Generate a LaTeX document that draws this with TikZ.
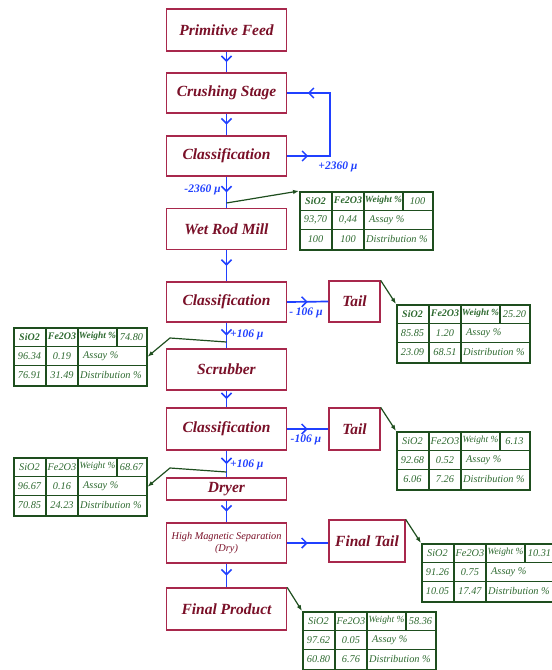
\documentclass[tikz,border=0pt]{standalone}
\usepackage{fontspec}
\setmainfont{Liberation Serif}
\usetikzlibrary{arrows.meta,decorations.markings}
\definecolor{boxred}{HTML}{A8284C}
\definecolor{textred}{HTML}{7A1028}
\definecolor{flowblue}{HTML}{2040FF}
\definecolor{tabgreen}{HTML}{1E4E1E}
\definecolor{tabtext}{HTML}{2E6A30}
\tikzset{
  stage/.style={draw=boxred, line width=1.3pt, fill=white, text=textred,
    minimum width=120pt, minimum height=41pt, inner sep=1pt,
    font=\bfseries\itshape\fontsize{15.5}{17}\selectfont},
  tailbox/.style={stage, minimum width=51pt},
  barb/.tip={Straight Barb[length=5pt,width=10pt,line width=1.5pt]},
  flow/.style={draw=flowblue, line width=1.7pt,
    postaction={decorate},
    decoration={markings, mark=at position 0.5 with {\arrow[flowblue]{barb}}}},
  flowline/.style={draw=flowblue, line width=1.7pt},
  flowlab/.style={text=flowblue, font=\bfseries\itshape\fontsize{11.5}{13}\selectfont, inner sep=1pt},
  tabframe/.style={draw=tabgreen, line width=1.5pt, fill=white, inner sep=0pt},
  tabline/.style={draw=tabgreen, line width=1.3pt},
  tabtxt/.style={text=tabtext, inner sep=0pt, font=\itshape\fontsize{10.3}{12}\selectfont},
  pointer/.style={draw=tabgreen, line width=1.2pt, -{Latex[length=6pt,width=4.5pt]}},
}
% #1 name, #2 x, #3 y, #4 weight, #5 SiO2 assay, #6 Fe2O3 assay, #7 SiO2 dist, #8 Fe2O3 dist, #9 header font
\newcommand\dtab[9]{%
  \node[tabframe, anchor=north west, minimum width=133pt, minimum height=58pt] (#1) at (#2,#3) {};
  \draw[tabline] (#2,#3+19.3) -- ++(133,0);
  \draw[tabline] (#2,#3+38.7) -- ++(133,0);
  \draw[tabline] (#2+33,#3) -- ++(0,58);
  \draw[tabline] (#2+65,#3) -- ++(0,58);
  \draw[tabline] (#2+104,#3) -- ++(0,19.3);
  \node[tabtxt, font=#9] at (#2+16.5,#3+9.7) {SiO2};
  \node[tabtxt, font=#9] at (#2+49,#3+9.7) {Fe2O3};
  \node[tabtxt, font=#9\fontsize{9.4}{10}\selectfont] at (#2+84.5,#3+9.7) {Weight \%};
  \node[tabtxt] at (#2+118.5,#3+9.7) {#4};
  \node[tabtxt] at (#2+16.5,#3+29) {#5};
  \node[tabtxt] at (#2+49,#3+29) {#6};
  \node[tabtxt, anchor=west] at (#2+70,#3+29) {Assay \%};
  \node[tabtxt, anchor=west] at (#2+67,#3+48.3) {Distribution \%};
  \node[tabtxt] at (#2+16.5,#3+48.3) {#7};
  \node[tabtxt] at (#2+49,#3+48.3) {#8};
}
\begin{document}
\begin{tikzpicture}[x=1pt,y=-1pt]
\path[use as bounding box] (0,0) rectangle (552,670);
\begin{scope}
\clip (0,0) rectangle (552,670);
% stages
\node[stage, minimum height=42pt] (feed) at (226.5,30) {Primitive Feed};
\node[stage, minimum height=40pt] (crush) at (226.5,93) {Crushing Stage};
\node[stage, minimum height=40pt] (class1) at (226.5,156) {Classification};
\node[stage] (wrm) at (226.5,229) {Wet Rod Mill};
\node[stage, minimum height=40pt] (class2) at (226.5,302) {Classification};
\node[stage] (scrub) at (226.5,369.5) {Scrubber};
\node[stage, minimum height=42pt] (class3) at (226.5,429) {Classification};
\node[stage, minimum height=22pt] (dryer) at (226.5,489) {Dryer};
\node[stage, minimum height=40pt, font=\itshape\fontsize{10.3}{12}\selectfont, align=center] (hms) at (226.5,543) {High Magnetic Separation\\(Dry)};
\node[stage, minimum height=42pt] (prod) at (226.5,609) {Final Product};
\node[tailbox] (tail1) at (354.5,301.5) {Tail};
\node[tailbox, minimum height=42pt] (tail2) at (354.5,429) {Tail};
\node[tailbox, minimum width=76pt, minimum height=42pt] (ftail) at (367,541) {Final Tail};
% main flow
\draw[flow] (feed) -- (crush);
\draw[flow] (crush) -- (class1);
\draw[flow] (class1) -- (wrm);
\draw[flow] (wrm) -- (class2);
\draw[flow] (class2) -- (scrub);
\draw[flow] (scrub) -- (class3);
\draw[flow] (class3) -- (dryer);
\draw[flow] (dryer) -- (hms);
\draw[flow] (hms) -- (prod);
% recycle loop
\coordinate (loop) at (330,156);
\draw[flowline, postaction={decorate},
  decoration={markings,
    mark=at position 21pt with {\arrow[flowblue]{barb}},
    mark=at position 128pt with {\arrow[flowblue]{barb}}}]
  (class1.east) -- (loop) |- (crush.east);
% tails
\draw[flow] (class2.east) -- (tail1.west);
\draw[flow] (class3.east) -- (tail2.west);
\draw[flow] (hms.east) -- (ftail.west |- hms.east);
% labels
\node[flowlab] at (338,167) {+2360 µ};
\node[flowlab, anchor=east] at (222,190) {-2360 µ};
\node[flowlab] at (306,313) {- 106 µ};
\node[flowlab] at (306,440) {-106 µ};
\node[flowlab, anchor=west] at (229,335) {+106 µ};
\node[flowlab, anchor=west] at (229,465) {+106 µ};
% tables
\dtab{twrm}{299}{191}{100}{93,70}{0,44}{100}{100}{\bfseries\itshape\fontsize{10}{12}\selectfont}
\dtab{ttail1}{396}{304}{25.20}{85.85}{1.20}{23.09}{68.51}{\bfseries\itshape\fontsize{10}{12}\selectfont}
\dtab{tscrub}{13}{327}{74.80}{96.34}{0.19}{76.91}{31.49}{\bfseries\itshape\fontsize{10}{12}\selectfont}
\dtab{ttail2}{396}{431}{6.13}{92.68}{0.52}{6.06}{7.26}{\itshape\fontsize{10.3}{12}\selectfont}
\dtab{tdryer}{13}{457}{68.67}{96.67}{0.16}{70.85}{24.23}{\itshape\fontsize{10.3}{12}\selectfont}
\dtab{tftail}{421}{543}{10.31}{91.26}{0.75}{10.05}{17.47}{\itshape\fontsize{10.3}{12}\selectfont}
\dtab{tprod}{302}{611}{58.36}{97.62}{0.05}{60.80}{6.76}{\itshape\fontsize{10.3}{12}\selectfont}
% pointers
\coordinate (p1) at (226.5,203);
\draw[pointer] (p1) -- (twrm.north west);
\draw[pointer] (tail1.north east) -- (ttail1.north west);
\draw[pointer] (tail2.north east) -- (ttail2.north west);
\draw[pointer] (ftail.north east) -- (tftail.north west);
\draw[pointer] (prod.north east) -- (tprod.north west);
\coordinate (p2) at (226.5,342);
\coordinate (k2) at (170,338);
\draw[pointer] (p2) -- (k2) -- (tscrub.east);
\coordinate (p3) at (226.5,472);
\coordinate (k3) at (170,468);
\draw[pointer] (p3) -- (k3) -- (tdryer.east);
\end{scope}
\end{tikzpicture}
\end{document}
